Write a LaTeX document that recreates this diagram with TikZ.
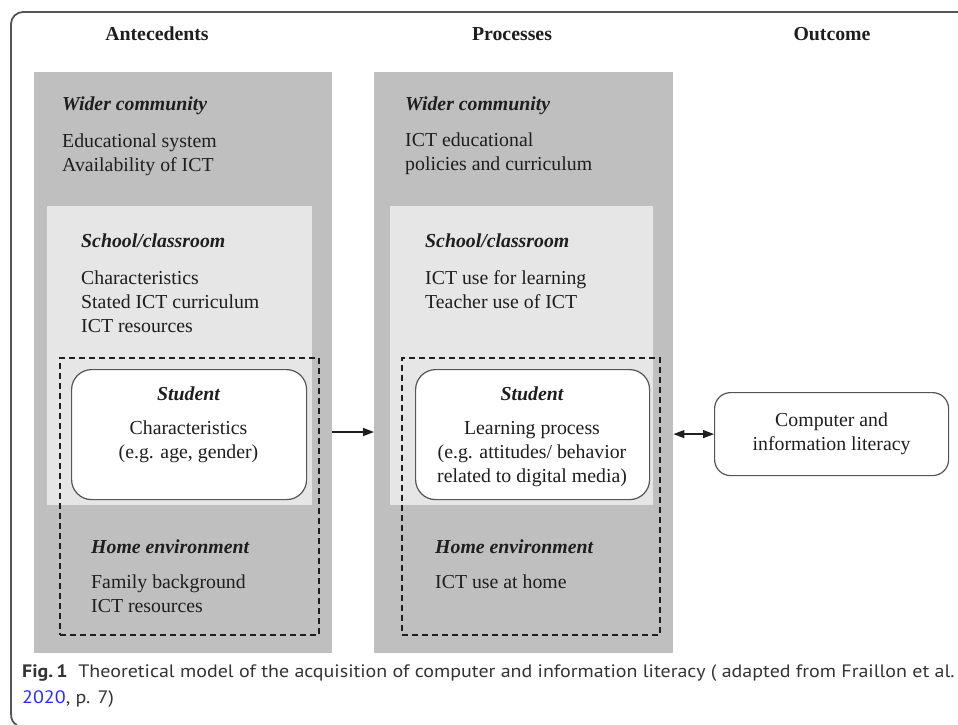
\documentclass[tikz,border=0pt]{standalone}
\usepackage{fontspec}
\setmainfont{Liberation Serif}
\newfontfamily\capfont[FakeStretch=1.11]{PT Sans}
\usetikzlibrary{arrows.meta}
\definecolor{darkcol}{HTML}{BFBFBF}
\definecolor{lightcol}{HTML}{E6E6E6}
\definecolor{txt}{HTML}{1E1E1E}
\definecolor{frame}{HTML}{555555}
\definecolor{linkblue}{HTML}{2B2BFF}
\tikzset{
  darkbox/.style={draw=none, fill=darkcol, anchor=north west, inner sep=0pt},
  lightbox/.style={draw=none, fill=lightcol, anchor=north west, inner sep=0pt},
  dashbox/.style={draw=txt, line width=1.5pt, dash pattern=on 6pt off 4pt, anchor=north west, inner sep=0pt},
  studbox/.style={draw=frame, line width=1.2pt, fill=white, rounded corners=20pt, anchor=north west, inner sep=0pt},
  outbox/.style={draw=frame, line width=1.2pt, fill=white, rounded corners=16pt, anchor=north west, inner sep=0pt},
  head/.style={font=\fontsize{19.8}{24}\selectfont\bfseries, text=txt, inner sep=0pt},
  sub/.style={font=\fontsize{19.8}{24}\selectfont\bfseries\itshape, text=txt, inner sep=0pt},
  body/.style={font=\fontsize{19.8}{24}\selectfont, text=txt, inner sep=0pt, align=left},
  cbody/.style={font=\fontsize{19.8}{24}\selectfont, text=txt, inner sep=0pt, align=center},
  conn/.style={line width=1.3pt, draw=txt},
  captext/.style={anchor=west, inner sep=0pt, font=\capfont\fontsize{18}{26}\selectfont, text=black!80}
}
\begin{document}
\begin{tikzpicture}[x=1pt,y=-1pt]
\useasboundingbox (0,0) rectangle (958,724);
% outer frame
\draw[frame, line width=1.8pt, rounded corners=12pt] (958,12) -- (11,12) -- (11,714);
\draw[frame, line width=1.8pt] (11,713) .. controls (11,720) and (13,723) .. (17,725);

% headers
\node[head] (hA) at (157,34) {Antecedents};
\node[head] (hP) at (512,34) {Processes};
\node[head] (hO) at (832,34) {Outcome};

% column backgrounds
\node[darkbox, minimum width=298pt, minimum height=581pt] (col1) at (34,72) {};
\node[darkbox, minimum width=299pt, minimum height=581pt] (col2) at (374,72) {};
\node[lightbox, minimum width=265pt, minimum height=299pt] (sch1) at (47,206) {};
\node[lightbox, minimum width=263pt, minimum height=299pt] (sch2) at (390,206) {};

% dashed home/student frames
\node[dashbox, minimum width=259pt, minimum height=277pt] (dash1) at (59,357) {};
\node[dashbox, minimum width=258pt, minimum height=277pt] (dash2) at (401,357) {};

% student boxes
\node[studbox, minimum width=235pt, minimum height=130pt] (stud1) at (71,369) {};
\node[studbox, minimum width=234pt, minimum height=130pt] (stud2) at (415,369) {};

% outcome box
\node[outbox, minimum width=234pt, minimum height=83pt] (out) at (714,392) {};

% column 1 texts
\node[sub, anchor=west] (wc1) at (62,106) {Wider community};
\node[body, anchor=west] (wc1b) at (62,154.5) {Educational system\\Availability of ICT};
\node[sub, anchor=west] (sc1) at (81,241) {School/classroom};
\node[body, anchor=west] (sc1b) at (81,301.5) {Characteristics\\Stated ICT curriculum\\ICT resources};
\node[sub] (st1) at (188.5,394) {Student};
\node[cbody] (st1b) at (188.5,442) {Characteristics\\(e.g. age, gender)};
\node[sub, anchor=west] (he1) at (91,547) {Home environment};
\node[body, anchor=west] (he1b) at (91,594) {Family background\\ICT resources};

% column 2 texts
\node[sub, anchor=west] (wc2) at (405,106) {Wider community};
\node[body, anchor=west] (wc2b) at (405,154) {ICT educational\\policies and curriculum};
\node[sub, anchor=west] (sc2) at (425,241) {School/classroom};
\node[body, anchor=west] (sc2b) at (425,289.5) {ICT use for learning\\Teacher use of ICT};
\node[sub] (st2) at (532,394) {Student};
\node[cbody] (st2b) at (532,454) {Learning process\\(e.g. attitudes/ behavior\\related to digital media)};
\node[sub, anchor=west] (he2) at (435,547) {Home environment};
\node[body, anchor=west] (he2b) at (435,582) {ICT use at home};

% outcome text
\node[cbody] (outt) at (out.center) {Computer and\\information literacy};

% connectors
\draw[conn, -{Triangle[length=11pt,width=8pt]}] (col1.east |- 0,432) -- (col2.west |- 0,432);
\draw[conn, {Triangle[length=11pt,width=8pt]}-{Triangle[length=11pt,width=8pt]}] (col2.east |- out.west) -- (out.west);

% caption
\node[captext] (cap1) at (22,673)
  {{\bfseries Fig.\,1}\ \ Theoretical model of the acquisition of computer and information literacy ( adapted from Fraillon et al.};
\node[captext] (cap2) at (22,699)
  {\textcolor{linkblue}{2020}, p. 7)};
\end{tikzpicture}
\end{document}
